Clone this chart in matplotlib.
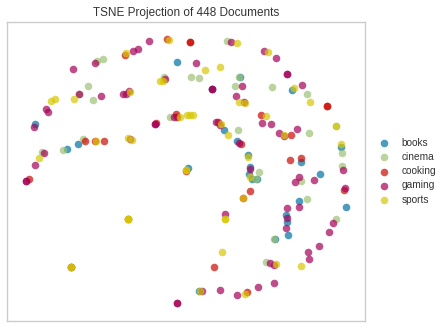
import matplotlib
matplotlib.use("Agg")
import matplotlib.pyplot as plt

# t-SNE-Koordinaten je Klasse (gestapelte Punkte doppelt)
labels = ["books", "cinema", "cooking", "gaming", "sports"]
colors = ["#0272a2", "#9fc377", "#ca0b03", "#a50258", "#d7c703"]

books_x = [532, 721, 637, 877, 106, 673, 1024, 235, 200, 712, 745, 751, 747,
           757, 770, 904, 960, 565, 898, 858, 862, 865, 1039, 826, 598]
books_y = [187, 232, 268, 270, 372, 390, 440, 432, 448, 423, 465, 500, 522,
           537, 537, 487, 523, 504, 603, 646, 665, 705, 622, 718, 874]

cinema_x = [682, 290, 310, 574, 598, 492, 716, 706, 817, 922, 265, 238, 278,
            509, 714, 928, 1007, 1027, 1027, 250, 190, 126, 777, 768, 902,
            922, 1007, 823, 798]
cinema_y = [124, 183, 178, 232, 235, 232, 232, 259, 262, 281, 259, 281, 301,
            352, 391, 400, 379, 460, 498, 416, 451, 456, 517, 538, 542,
            598, 657, 716, 787]

cooking_x = [502, 571, 571, 376, 468, 528, 530, 655, 784, 874, 982, 982, 1033,
             256, 286, 313, 86, 724, 871, 904, 558, 751, 729, 213, 643, 742,
             385]
cooking_y = [118, 127, 127, 166, 369, 343, 352, 366, 345, 406, 317, 317, 571,
             423, 423, 423, 538, 433, 481, 475, 512, 573, 595, 802, 801, 877,
             658]

gaming_x = [448, 694, 793, 829, 862, 862, 400, 415, 284, 220, 587, 494, 727,
            637, 637, 907, 709, 733, 238, 304, 139, 145, 370, 378, 388, 103,
            464, 464, 522, 648, 659, 787, 814, 838, 851, 892, 1030, 1035, 390,
            133, 106, 79, 79, 718, 751, 898, 886, 942, 898, 862, 862, 858,
            676, 1000, 988, 958, 925, 928, 811, 823, 822, 775, 712, 661, 605,
            530, 530, 213]
gaming_y = [123, 127, 153, 175, 223, 223, 153, 148, 190, 208, 190, 237, 259,
            268, 268, 256, 287, 307, 283, 289, 327, 337, 281, 281, 273, 381,
            372, 372, 352, 366, 375, 370, 373, 400, 409, 388, 511, 565, 416,
            460, 495, 544, 544, 430, 508, 531, 547, 541, 620, 625, 655, 685,
            643, 668, 697, 739, 757, 778, 790, 795, 850, 862, 886, 871, 872,
            910, 910, 802]

sports_x = [508, 712, 805, 379, 616, 661, 480, 488, 883, 931, 718, 735, 390,
            223, 154, 166, 540, 560, 570, 580, 664, 685, 799, 852, 1007, 1023,
            288, 385, 397, 118, 745, 749, 559, 559, 729, 676, 676, 385, 385,
            385, 665, 213, 213, 828, 904, 735, 601]
sports_y = [121, 130, 157, 160, 211, 202, 243, 242, 265, 307, 307, 310, 277,
            298, 303, 298, 350, 346, 346, 346, 373, 406, 348, 404, 379, 433,
            423, 413, 421, 475, 471, 530, 511, 511, 595, 658, 658, 658, 658,
            658, 757, 802, 802, 793, 799, 882, 874]

series_x = [books_x, cinema_x, cooking_x, gaming_x, sports_x]
series_y = [books_y, cinema_y, cooking_y, gaming_y, sports_y]

plt.rcParams["font.family"] = ["Liberation Sans", "DejaVu Sans"]
plt.rcParams["text.color"] = "#333333"

fig = plt.figure(figsize=(4.47, 3.27), dpi=100)
ax = fig.add_axes([0.0163, 0.0193, 0.8003, 0.9143])

for xs, ys, lab, col in zip(series_x, series_y, labels, colors):
    ax.scatter(xs, ys, c=col, s=30, alpha=0.7, linewidths=0, label=lab)

ax.set_xlim(22, 1095)
ax.set_ylim(962, 65)
ax.set_xticks([])
ax.set_yticks([])
for sp in ax.spines.values():
    sp.set_color("#cccccc")
    sp.set_linewidth(1.0)

ax.set_title("TSNE Projection of 448 Documents", fontsize=8.5, pad=4)
ax.legend(loc="center left", bbox_to_anchor=(1.0, 0.5), frameon=False,
          fontsize=7.3, handletextpad=0.7, labelspacing=0.42, scatterpoints=1)

fig.savefig("out.png", dpi=100)
